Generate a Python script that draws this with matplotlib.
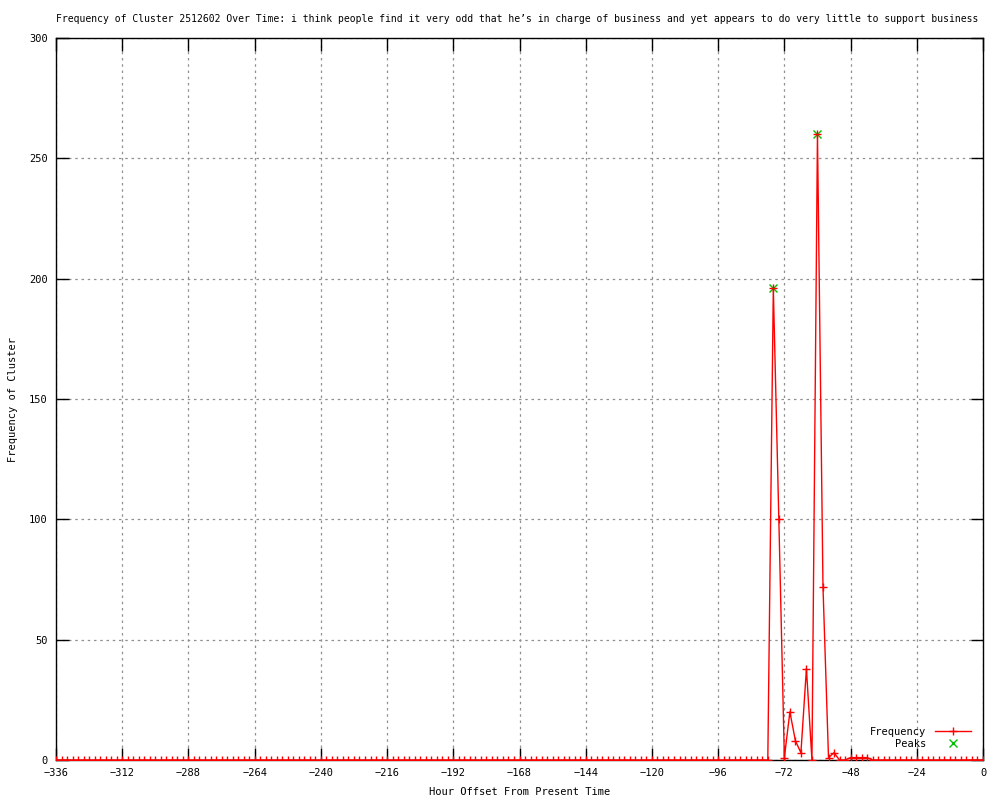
import numpy as np
import matplotlib.pyplot as plt

plt.rcParams['font.family'] = ['DejaVu Sans Mono']
plt.rcParams['font.size'] = 7.5

# hours from -336 to 0, one reading every 2 hours
hours = np.arange(-336, 1, 2)
# -336 .. -80 all zero, then -78 .. 0
freq = [0] * 129 + [0, 196, 100, 1, 20, 8, 3, 38, 0, 260,
                    72, 1, 3, 0, 0, 1, 1, 1, 1, 0] + [0] * 20

peak_hours = [-76, -60]
peak_vals = [196, 260]

title = ("Frequency of Cluster 2512602 Over Time: i think people find it very odd "
         "that he\u2019s in charge of business and yet appears to do very little "
         "to support business")

fig = plt.figure(figsize=(10, 8), dpi=100)
ax = fig.add_axes([0.056, 0.05, 0.927, 0.9025])

ax.plot(peak_hours, peak_vals, linestyle='none', marker='x', color='#00c000',
        markersize=6, markeredgewidth=1, label='Peaks', zorder=2)
ax.plot(hours, freq, color='red', linewidth=1, marker='+', markersize=6,
        markeredgewidth=1, label='Frequency', zorder=3)

ax.set_xlim(-336, 0)
ax.set_ylim(0, 300)
ax.set_xticks(np.arange(-336, 1, 24))
ax.set_yticks(np.arange(0, 301, 50))
ax.tick_params(direction='in', length=9, width=1, top=True, right=True,
               labelsize=7.5, pad=6)
ax.grid(True, color='#909090', linestyle=(0, (2, 3)), linewidth=0.9)
for s in ax.spines.values():
    s.set_linewidth(1)

fig.text(0.517, 0.976, title, fontsize=7.05, ha='center', va='center')
ax.set_xlabel("Hour Offset From Present Time", labelpad=6)
ax.set_ylabel("Frequency of Cluster", labelpad=8)

h, l = ax.get_legend_handles_labels()
ax.legend(h[::-1], l[::-1], loc='lower right', frameon=False, markerfirst=False,
          handlelength=3.5, borderaxespad=0.3, labelspacing=0.2, fontsize=7.5,
          bbox_to_anchor=(0.995, 0.005))

fig.savefig('out.png', dpi=100)
